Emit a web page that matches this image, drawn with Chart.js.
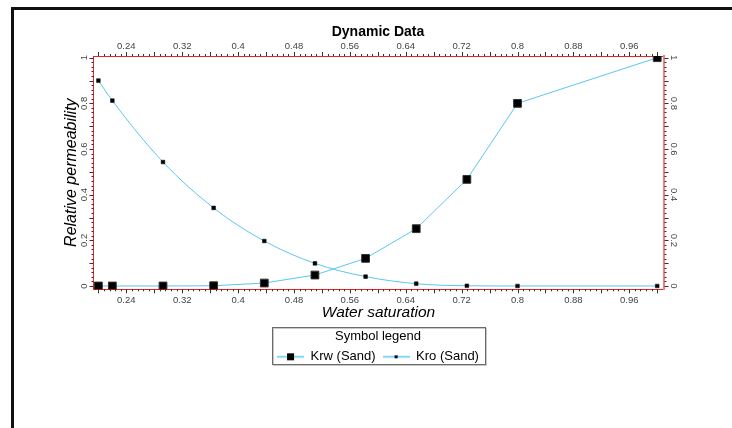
<!DOCTYPE html>
<html>
<head>
<meta charset="utf-8">
<script src="https://cdn.jsdelivr.net/npm/chart.js@4"></script>
<style>
  html, body { margin: 0; padding: 0; background: #fff; }
  #wrap { width: 732px; height: 428px; }
</style>
</head>
<body>
<div id="wrap"><canvas id="chart-kr" width="732" height="428"></canvas></div>
<script>
// water saturation of each table row
const SW = [0.2, 0.22, 0.2925, 0.365, 0.4375, 0.51, 0.5825, 0.655, 0.7275, 0.8, 1.0];
const KRW = [0, 0, 0, 0.001, 0.013, 0.048, 0.121, 0.251, 0.467, 0.8, 1.0];
const KRO = [0.9, 0.812, 0.543, 0.342, 0.197, 0.099, 0.041, 0.01, 0.001, 0, 0];

const X_TICKS = [0.24, 0.32, 0.4, 0.48, 0.56, 0.64, 0.72, 0.8, 0.88, 0.96];
const Y_TICKS = [0, 0.2, 0.4, 0.6, 0.8, 1];

const FONT = 'Liberation Sans, Arial, sans-serif';
const LINE_BLUE = '#5cc6f4';

// legend icon: short line with the marker in the middle
function legendIcon(side) {
  const c = document.createElement('canvas');
  c.width = 27;
  c.height = 11;
  const g = c.getContext('2d');
  g.strokeStyle = LINE_BLUE;
  g.lineWidth = 1.5;
  g.beginPath();
  g.moveTo(0, 5.5);
  g.lineTo(27, 5.5);
  g.stroke();
  g.fillStyle = '#000';
  g.fillRect(13.5 - side / 2, 5.5 - side / 2, side, side);
  return c;
}
const ICONS = [legendIcon(7), legendIcon(3)];

const fmt = v => String(+v.toFixed(2));

const frame = {
  id: 'frame',
  beforeDraw(chart) {
    const ctx = chart.ctx;
    ctx.save();
    ctx.fillStyle = '#fff';
    ctx.fillRect(0, 0, chart.width, chart.height);
    ctx.strokeStyle = '#111';
    ctx.lineWidth = 3;
    ctx.strokeRect(12.5, 8.5, 1000, 1000);
    ctx.restore();
  },
  afterDraw(chart) {
    const ctx = chart.ctx;
    const a = chart.chartArea;
    const sx = chart.scales.x;
    const sy = chart.scales.y;
    ctx.save();

    // minor / major tick marks on all four sides
    ctx.strokeStyle = '#333';
    ctx.lineWidth = 1;
    ctx.beginPath();
    for (let i = 0; i <= 100; i++) {
      const px = Math.round(sx.getPixelForValue(0.2 + i * 0.008)) + 0.5;
      const len = i % 5 === 0 ? 4 : 2;
      ctx.moveTo(px, a.top);
      ctx.lineTo(px, a.top - len);
      ctx.moveTo(px, a.bottom);
      ctx.lineTo(px, a.bottom + len);
    }
    for (let i = 0; i <= 50; i++) {
      const py = Math.round(sy.getPixelForValue(i * 0.02)) + 0.5;
      const len = i % 5 === 0 ? 4 : 2;
      ctx.moveTo(a.left, py);
      ctx.lineTo(a.left - len, py);
      ctx.moveTo(a.right + 1, py);
      ctx.lineTo(a.right + 1 + len, py);
    }
    ctx.stroke();

    // box round the legend
    const boxes = chart.legend.legendHitBoxes;
    if (boxes && boxes.length) {
      const first = boxes[0];
      const last = boxes[boxes.length - 1];
      const l = Math.round(first.left) - 5;
      const r = Math.round(last.left + last.width) + 6;
      const t = Math.round(chart.legend.top);
      const b = Math.round(first.top + first.height / 2) + 7;
      ctx.strokeStyle = '#c8c8c8';
      ctx.strokeRect(l + 1.5, t + 1.5, r - l, b - t);
      ctx.strokeStyle = '#6b6b6b';
      ctx.strokeRect(l + 0.5, t + 0.5, r - l, b - t);
    }
    ctx.restore();
  }
};

const fixSize = size => scale => {
  if (scale.isHorizontal()) scale.height = size;
  else scale.width = size;
};

const tickFont = { family: FONT, size: 9.5 };
const noGrid = { display: false, drawTicks: false, tickLength: 0 };

new Chart(document.getElementById('chart-kr'), {
  type: 'line',
  data: {
    datasets: [{
      label: 'Krw (Sand)',
      data: SW.map((x, i) => ({ x, y: KRW[i] })),
      borderColor: LINE_BLUE,
      borderWidth: 1,
      pointStyle: 'rect',
      pointRadius: 5.5,
      pointBackgroundColor: '#000',
      pointBorderColor: '#333',
      pointBorderWidth: 1,
      tension: 0,
      xAxisID: 'x',
      yAxisID: 'y'
    },
    {
      label: 'Kro (Sand)',
      data: SW.map((x, i) => ({ x, y: KRO[i] })),
      borderColor: LINE_BLUE,
      borderWidth: 1,
      pointStyle: 'rect',
      pointRadius: 2.6,
      pointBackgroundColor: '#000',
      pointBorderColor: '#000',
      pointBorderWidth: 0.5,
      cubicInterpolationMode: 'monotone',
      xAxisID: 'x',
      yAxisID: 'y'
    }]
  },
  options: {
    responsive: false,
    animation: false,
    devicePixelRatio: 1,
    layout: { padding: { top: 10, left: 24, right: 0, bottom: 54.7 } },
    scales: {
      x: {
        type: 'linear',
        position: 'bottom',
        min: 0.193,
        max: 1.009,
        afterBuildTicks: s => { s.ticks = X_TICKS.map(value => ({ value })); },
        afterFit: fixSize(38),
        grid: noGrid,
        border: { display: true, color: '#ee2222', width: 1 },
        ticks: { font: tickFont, color: '#444', padding: 5, maxRotation: 0, autoSkip: false, callback: fmt },
        title: {
          display: true,
          text: 'Water saturation',
          font: { family: FONT, size: 15.5, style: 'italic' },
          color: '#000',
          padding: { top: 0, bottom: 5 }
        }
      },
      x2: {
        type: 'linear',
        position: 'top',
        min: 0.193,
        max: 1.009,
        afterBuildTicks: s => { s.ticks = X_TICKS.map(value => ({ value })); },
        afterFit: fixSize(15.2),
        grid: noGrid,
        border: { display: true, color: '#ee2222', width: 1 },
        ticks: { font: tickFont, color: '#444', padding: 4, maxRotation: 0, autoSkip: false, callback: fmt }
      },
      y: {
        type: 'linear',
        position: 'left',
        min: -0.0145,
        max: 1.0075,
        afterBuildTicks: s => { s.ticks = Y_TICKS.map(value => ({ value })); },
        afterFit: fixSize(69.5),
        grid: noGrid,
        border: { display: true, color: '#ee2222', width: 1 },
        ticks: { font: tickFont, color: '#444', padding: 3, minRotation: 90, maxRotation: 90, crossAlign: 'center', callback: fmt },
        title: {
          display: true,
          text: 'Relative permeability',
          font: { family: FONT, size: 16, style: 'italic' },
          color: '#000',
          padding: { top: 38, bottom: 0 }
        }
      },
      y2: {
        type: 'linear',
        position: 'right',
        min: -0.0145,
        max: 1.0075,
        afterBuildTicks: s => { s.ticks = Y_TICKS.map(value => ({ value })); },
        afterFit: fixSize(68.5),
        grid: noGrid,
        border: { display: true, color: '#f27f7f', width: 2 },
        ticks: { font: tickFont, color: '#444', padding: 4, minRotation: -90, maxRotation: -90, crossAlign: 'center', callback: fmt }
      }
    },
    plugins: {
      title: {
        display: true,
        text: 'Dynamic Data',
        font: { family: FONT, size: 14, weight: 'bold' },
        color: '#000',
        padding: { top: 14, bottom: 0 }
      },
      legend: {
        position: 'bottom',
        title: {
          display: true,
          text: 'Symbol legend',
          font: { family: FONT, size: 13, lineHeight: 1 },
          color: '#000',
          padding: { top: 3, bottom: 0 }
        },
        labels: {
          usePointStyle: true,
          pointStyleWidth: 27,
          boxHeight: 13,
          padding: 7,
          color: '#000',
          font: { family: FONT, size: 13 },
          generateLabels: chart => chart.data.datasets.map((ds, i) => ({
            text: ds.label,
            pointStyle: ICONS[i],
            datasetIndex: i,
            hidden: false,
            lineWidth: 0,
            fontColor: '#000',
            strokeStyle: 'transparent',
            fillStyle: 'transparent'
          }))
        }
      },
      tooltip: { enabled: false }
    }
  },
  plugins: [frame]
});
</script>
</body>
</html>
